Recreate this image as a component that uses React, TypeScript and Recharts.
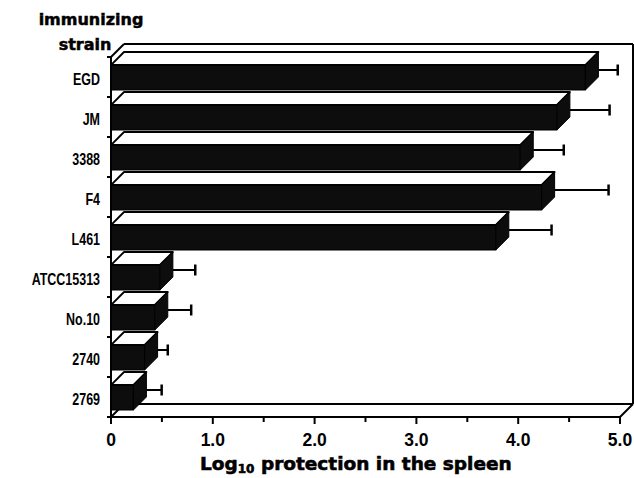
import React from 'react';
import { BarChart, Bar, XAxis, YAxis, ReferenceArea } from 'recharts';

const strains = ['EGD', 'JM', '3388', 'F4', 'L461', 'ATCC15313', 'No.10', '2740', '2769'];
const protection = [4.66, 4.38, 4.02, 4.23, 3.78, 0.48, 0.43, 0.33, 0.22];
const errors = [0.19, 0.39, 0.3, 0.53, 0.42, 0.22, 0.23, 0.1, 0.15];
const xTicks = [0, 0.5, 1, 1.5, 2, 2.5, 3, 3.5, 4, 4.5, 5];
const xTickLabels: Record<string, string> = { '0': '0', '1': '1.0', '2': '2.0', '3': '3.0', '4': '4.0', '5': '5.0' };

const data = strains.map((s, i) => ({ strain: s, value: protection[i], err: errors[i] }));

const D = 13; // 3D depth
const BOLD = "'DejaVu Sans', sans-serif";
const LIB = "'Liberation Sans', Arial, sans-serif";

const Bar3D = (props: any) => {
  const { x, y, width, height, payload } = props;
  if (width == null || height == null) return null;
  const errPx = payload.value ? (payload.err * width) / payload.value : 0;
  const xr = x + width;
  const ey = y + height / 2 - 7.5;
  return (
    <g>
      <rect x={x} y={y} width={width} height={height} fill="#0d0d0d" stroke="#000" strokeWidth={1} />
      <polygon
        points={`${x},${y} ${x + D},${y - D} ${xr + D},${y - D} ${xr},${y}`}
        fill="#fff"
        stroke="#000"
        strokeWidth={1.8}
        strokeLinejoin="round"
      />
      <polygon
        points={`${xr},${y} ${xr + D},${y - D} ${xr + D},${y + height - D} ${xr},${y + height}`}
        fill="#0d0d0d"
        stroke="#000"
        strokeWidth={1}
      />
      <line x1={xr + D} y1={ey} x2={xr + D + errPx} y2={ey} stroke="#000" strokeWidth={2} />
      <line x1={xr + D + errPx} y1={ey - 5.5} x2={xr + D + errPx} y2={ey + 5.5} stroke="#000" strokeWidth={2.5} />
    </g>
  );
};

const Frame = (props: any) => {
  const { x, y, width, height } = props;
  const l = x;
  const t = y;
  const r = x + width;
  const b = y + height;
  const n = strains.length;
  const band = height / n;
  const s = { stroke: '#000', strokeWidth: 2, fill: 'none' };
  return (
    <g>
      <line x1={l + D} y1={t - D} x2={r + D} y2={t - D} {...s} />
      <line x1={r + D} y1={t - D} x2={r + D} y2={b - D} {...s} />
      <line x1={l + D} y1={b - D} x2={r + D} y2={b - D} {...s} />
      <line x1={l} y1={b} x2={l + D} y2={b - D} {...s} />
      <line x1={r} y1={b} x2={r + D} y2={b - D} {...s} />
      <line x1={l} y1={t} x2={l + D} y2={t - D} {...s} />
      {Array.from({ length: n + 1 }, (_, i) => (
        <line key={i} x1={l - 4} y1={t + band * i} x2={l} y2={t + band * i} {...s} />
      ))}
    </g>
  );
};

const XTick = (props: any) => {
  const { x, y, payload } = props;
  const v = payload.value;
  const major = Number.isInteger(v);
  return (
    <g>
      <line x1={x} y1={y} x2={x} y2={y + (major ? 7 : 5)} stroke="#000" strokeWidth={2} />
      {major && (
        <text x={x} y={y + 29} textAnchor="middle" fontFamily={LIB} fontWeight={700} fontSize={17.5} fill="#000">
          {xTickLabels[String(v)]}
        </text>
      )}
    </g>
  );
};

const YTick = (props: any) => {
  const { x, y, payload } = props;
  return (
    <text
      transform={`translate(${x - 11},${y + 8}) scale(0.78,1)`}
      textAnchor="end"
      fontFamily={LIB}
      fontWeight={700}
      fontSize={16}
      fill="#000"
    >
      {payload.value}
    </text>
  );
};

export default function App() {
  return (
    <div style={{ position: 'absolute', left: 0, top: 0, width: 634, height: 478, background: '#fff' }}>
      <BarChart
        width={634}
        height={478}
        data={data}
        layout="vertical"
        margin={{ top: 57, right: 14, bottom: 0, left: 0 }}
        barSize={25}
      >
        <ReferenceArea x1={0} x2={5} shape={(p: any) => <Frame {...p} />} ifOverflow="visible" />
        <XAxis
          type="number"
          dataKey="value"
          domain={[0, 5]}
          ticks={xTicks}
          interval={0}
          height={61}
          tickSize={0}
          tickMargin={0}
          tickLine={false}
          axisLine={{ stroke: '#000', strokeWidth: 2 }}
          tick={<XTick />}
          allowDataOverflow
        />
        <YAxis
          type="category"
          dataKey="strain"
          width={111}
          tickSize={0}
          tickMargin={0}
          tickLine={false}
          axisLine={{ stroke: '#000', strokeWidth: 2 }}
          tick={<YTick />}
          interval={0}
        />
        <Bar dataKey="value" isAnimationActive={false} shape={(p: any) => <Bar3D {...p} />} />
        <ReferenceArea
          x1={0}
          x2={5}
          ifOverflow="visible"
          shape={(p: any) => (
            <g>
              <text x={91} y={25} textAnchor="middle" fontFamily={BOLD} fontWeight={700} fontSize={16} fill="#000" stroke="#000" strokeWidth={0.5}>
                immunizing
              </text>
              <text x={85} y={50} textAnchor="middle" fontFamily={BOLD} fontWeight={700} fontSize={16} fill="#000" stroke="#000" strokeWidth={0.5}>
                strain
              </text>
              <text x={p.x + 89} y={p.y + p.height + 53} fontFamily={BOLD} fontWeight={700} fontSize={18.5} fill="#000" stroke="#000" strokeWidth={0.6}>
                <tspan>Log</tspan>
                <tspan fontSize={12} dy={3}>10</tspan>
                <tspan dy={-3}> protection in the spleen</tspan>
              </text>
            </g>
          )}
        />
      </BarChart>
    </div>
  );
}
